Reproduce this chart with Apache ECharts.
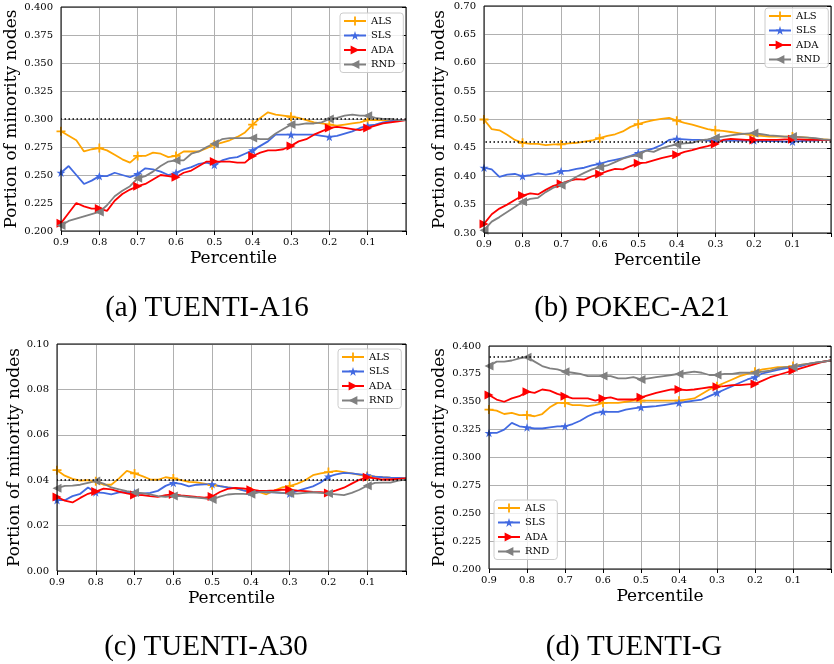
<!DOCTYPE html>
<html>
<head>
<meta charset="utf-8">
<script src="https://cdn.jsdelivr.net/npm/echarts@6/dist/echarts.min.js"></script>
<style>
html,body{margin:0;padding:0;background:#fff;}
#chart{width:834px;height:664px;}
</style>
</head>
<body>
<div id="chart"></div>
<script>
// ---- data ----
const percentiles = [0.9,0.88,0.86,0.84,0.82,0.8,0.78,0.76,0.74,0.72,
  0.7,0.68,0.66,0.64,0.62,0.6,0.58,0.56,0.54,0.52,
  0.5,0.48,0.46,0.44,0.42,0.4,0.38,0.36,0.34,0.32,
  0.3,0.28,0.26,0.24,0.22,0.2,0.18,0.16,0.14,0.12,
  0.1,0.08,0.06,0.04,0.02,0];
const markerPercentiles = [0.9,0.8,0.7,0.6,0.5,0.4,0.3,0.2,0.1];
const methods = ['ALS','SLS','ADA','RND'];
const panelTitles = ['(a) TUENTI-A16','(b) POKEC-A21','(c) TUENTI-A30','(d) TUENTI-G'];
const baselines = [0.299, 0.464, 0.041, 0.387];
const yMins = [0.2, 0.3, 0, 0.2];
const yMaxs = [0.4, 0.7, 0.1, 0.4];
const yIntervals = [0.025, 0.05, 0.02, 0.025];
const yDecimals = [3, 2, 2, 3];
const xTickLabels = ['0.9','0.8','0.7','0.6','0.5','0.4','0.3','0.2','0.1'];

const a16ALS = [0.289,0.285,0.281,0.271,0.273, 0.274,0.272,0.268,0.264,0.261,
  0.267,0.267,0.270,0.269,0.266, 0.267,0.271,0.271,0.271,0.274,
  0.277,0.279,0.281,0.284,0.288, 0.295,0.301,0.306,0.304,0.303,
  0.302,0.301,0.299,0.297,0.296, 0.295,0.294,0.295,0.296,0.297,
  0.299,0.299,0.299,0.299,0.299, 0.299];
const a16SLS = [0.252,0.258,0.250,0.242,0.245, 0.249,0.249,0.252,0.250,0.248,
  0.251,0.256,0.255,0.253,0.250, 0.252,0.255,0.257,0.260,0.261,
  0.259,0.263,0.265,0.266,0.269, 0.272,0.276,0.280,0.286,0.286,
  0.286,0.286,0.286,0.286,0.285, 0.284,0.285,0.287,0.289,0.292,
  0.294,0.295,0.297,0.298,0.299, 0.299];
const a16ADA = [0.207,0.216,0.225,0.222,0.220, 0.220,0.218,0.227,0.233,0.237,
  0.240,0.242,0.246,0.250,0.249, 0.248,0.252,0.254,0.258,0.262,
  0.262,0.262,0.262,0.261,0.261, 0.267,0.270,0.272,0.272,0.273,
  0.276,0.280,0.282,0.286,0.289, 0.292,0.293,0.292,0.291,0.290,
  0.292,0.294,0.296,0.297,0.298, 0.299];
const a16RND = [0.205,0.209,0.211,0.213,0.215, 0.217,0.223,0.231,0.236,0.240,
  0.247,0.249,0.253,0.258,0.262, 0.263,0.263,0.269,0.271,0.275,
  0.278,0.282,0.283,0.283,0.283, 0.283,0.282,0.282,0.287,0.291,
  0.295,0.295,0.296,0.296,0.297, 0.300,0.301,0.303,0.304,0.303,
  0.303,0.301,0.300,0.300,0.299, 0.299];

const a21ALS = [0.500,0.483,0.481,0.473,0.464, 0.459,0.457,0.457,0.455,0.456,
  0.456,0.458,0.459,0.461,0.463, 0.467,0.471,0.474,0.479,0.487,
  0.492,0.496,0.499,0.501,0.503, 0.498,0.494,0.491,0.487,0.483,
  0.481,0.480,0.478,0.476,0.474, 0.472,0.471,0.470,0.470,0.470,
  0.470,0.469,0.468,0.466,0.465, 0.464];
const a21SLS = [0.415,0.412,0.399,0.403,0.404, 0.400,0.402,0.405,0.403,0.405,
  0.409,0.410,0.413,0.415,0.419, 0.422,0.426,0.429,0.432,0.436,
  0.441,0.445,0.449,0.455,0.464, 0.466,0.465,0.464,0.464,0.463,
  0.463,0.463,0.463,0.463,0.463, 0.463,0.462,0.462,0.462,0.461,
  0.461,0.462,0.463,0.463,0.464, 0.464];
const a21ADA = [0.316,0.333,0.343,0.350,0.358, 0.366,0.370,0.368,0.376,0.383,
  0.387,0.392,0.395,0.394,0.400, 0.404,0.409,0.413,0.412,0.418,
  0.423,0.424,0.428,0.432,0.435, 0.438,0.443,0.446,0.450,0.453,
  0.457,0.464,0.466,0.465,0.464, 0.464,0.464,0.464,0.464,0.465,
  0.465,0.465,0.464,0.464,0.464, 0.464];
const a21RND = [0.305,0.320,0.328,0.337,0.346, 0.355,0.360,0.362,0.372,0.380,
  0.384,0.391,0.399,0.406,0.412, 0.416,0.419,0.425,0.431,0.435,
  0.437,0.445,0.443,0.449,0.453, 0.456,0.458,0.459,0.463,0.465,
  0.468,0.470,0.472,0.474,0.475, 0.476,0.474,0.472,0.471,0.470,
  0.470,0.469,0.468,0.467,0.465, 0.464];

const a30ALS = [0.0444,0.0420,0.0406,0.0398,0.0400, 0.0395,0.0380,0.0380,0.0408,0.0441,
  0.0430,0.0418,0.0404,0.0402,0.0413, 0.0408,0.0400,0.0393,0.0390,0.0385,
  0.0378,0.0374,0.0368,0.0363,0.0356, 0.0350,0.0348,0.0338,0.0354,0.0368,
  0.0374,0.0385,0.0400,0.0422,0.0430, 0.0436,0.0441,0.0436,0.0430,0.0424,
  0.0418,0.0416,0.0413,0.0411,0.0410, 0.0408];
const a30SLS = [0.0312,0.0312,0.0330,0.0340,0.0368, 0.0346,0.0344,0.0338,0.0346,0.0348,
  0.0345,0.0341,0.0344,0.0353,0.0375, 0.0388,0.0384,0.0373,0.0380,0.0382,
  0.0382,0.0374,0.0368,0.0365,0.0355, 0.0348,0.0350,0.0347,0.0347,0.0344,
  0.0341,0.0353,0.0363,0.0373,0.0390, 0.0416,0.0426,0.0432,0.0430,0.0426,
  0.0422,0.0416,0.0413,0.0411,0.0410, 0.0408];
const a30ADA = [0.0326,0.0310,0.0302,0.0322,0.0340, 0.0350,0.0363,0.0360,0.0350,0.0342,
  0.0335,0.0334,0.0330,0.0327,0.0334, 0.0337,0.0333,0.0330,0.0326,0.0323,
  0.0328,0.0348,0.0362,0.0366,0.0364, 0.0358,0.0354,0.0353,0.0355,0.0358,
  0.0358,0.0354,0.0352,0.0348,0.0347, 0.0344,0.0355,0.0367,0.0385,0.0402,
  0.0413,0.0408,0.0403,0.0403,0.0406, 0.0408];
const a30RND = [0.0365,0.0375,0.0376,0.0380,0.0388, 0.0396,0.0385,0.0368,0.0360,0.0352,
  0.0346,0.0343,0.0338,0.0330,0.0327, 0.0330,0.0330,0.0326,0.0323,0.0320,
  0.0315,0.0328,0.0337,0.0340,0.0340, 0.0338,0.0346,0.0350,0.0347,0.0344,
  0.0341,0.0341,0.0344,0.0347,0.0344, 0.0341,0.0338,0.0334,0.0344,0.0358,
  0.0376,0.0388,0.0389,0.0389,0.0398, 0.0403];

const gALS = [0.343,0.342,0.339,0.340,0.338, 0.338,0.337,0.339,0.345,0.349,
  0.349,0.347,0.347,0.346,0.347, 0.349,0.349,0.349,0.350,0.351,
  0.351,0.351,0.351,0.351,0.351, 0.351,0.352,0.353,0.357,0.361,
  0.364,0.367,0.370,0.373,0.375, 0.377,0.379,0.380,0.381,0.381,
  0.382,0.383,0.384,0.385,0.386, 0.387];
const gSLS = [0.322,0.322,0.325,0.331,0.328, 0.327,0.326,0.326,0.327,0.328,
  0.328,0.330,0.333,0.337,0.340, 0.341,0.341,0.341,0.343,0.344,
  0.345,0.3455,0.346,0.347,0.348, 0.349,0.350,0.351,0.352,0.355,
  0.358,0.361,0.364,0.367,0.370, 0.372,0.3755,0.377,0.3785,0.380,
  0.381,0.382,0.384,0.385,0.386, 0.387];
const gADA = [0.356,0.352,0.350,0.353,0.355, 0.359,0.358,0.361,0.360,0.357,
  0.355,0.353,0.353,0.353,0.351, 0.353,0.354,0.352,0.352,0.352,
  0.354,0.356,0.358,0.3595,0.361, 0.361,0.3605,0.361,0.362,0.363,
  0.3635,0.364,0.365,0.365,0.3655, 0.366,0.369,0.372,0.374,0.376,
  0.378,0.380,0.382,0.384,0.386, 0.387];
const gRND = [0.382,0.386,0.386,0.387,0.389, 0.390,0.386,0.382,0.380,0.379,
  0.377,0.376,0.375,0.373,0.373, 0.373,0.373,0.371,0.371,0.372,
  0.370,0.371,0.372,0.373,0.374, 0.375,0.376,0.377,0.376,0.374,
  0.374,0.375,0.375,0.376,0.376, 0.376,0.377,0.378,0.380,0.381,
  0.381,0.383,0.384,0.385,0.386, 0.387];

const panelSeries = [
  [a16ALS, a16SLS, a16ADA, a16RND],
  [a21ALS, a21SLS, a21ADA, a21RND],
  [a30ALS, a30SLS, a30ADA, a30RND],
  [gALS, gSLS, gADA, gRND]
];

// ---- styling / layout ----
const colors = ['#FFA500', '#4169E1', '#FF0000', '#808080'];
const symbols = [
  'path://M4,0H6V4H10V6H6V10H4V6H0V4H4Z',
  'path://M50,0L61.8,35.3L98.1,35.3L68.8,57.1L79.4,91.9L50,70.7L20.6,91.9L31.2,57.1L1.9,35.3L38.2,35.3Z',
  'path://M0,0L10,5L0,10Z',
  'path://M10,0L0,5L10,10Z'
];
const symbolSizes = [9, 9, 9, 9];
const grids = [
  {left: 61, top: 7, width: 345, height: 224},
  {left: 484, top: 6, width: 349, height: 227},
  {left: 57, top: 344, width: 349, height: 227},
  {left: 489, top: 346, width: 344, height: 223}
];
const yNameGaps = [38, 36, 32, 36];
const legendPos = [
  {left: 340, top: 13},
  {left: 765, top: 8},
  {left: 338, top: 349},
  {left: 494, top: 500}
];
const captionPos = [[207, 308], [632, 308], [206, 647], [634, 647]];

const serif = 'DejaVu Serif';

function isMarker(x) {
  return markerPercentiles.some(m => Math.abs(m - x) < 1e-9);
}

const option = {
  animation: false,
  grid: grids.map(g => Object.assign({show: true, borderColor: '#000', borderWidth: 1, z: 10, backgroundColor: 'transparent'}, g)),
  xAxis: grids.map((g, i) => ({
    type: 'value', gridIndex: i, inverse: true, min: 0, max: 0.9, interval: 0.1,
    name: 'Percentile', nameLocation: 'middle', nameGap: 19,
    nameTextStyle: {fontFamily: serif, fontSize: 17, color: '#000'},
    axisLine: {show: false},
    axisTick: {show: true, inside: false, length: 4, lineStyle: {color: '#000', width: 1}},
    axisLabel: {fontFamily: serif, fontSize: 10, color: '#000', margin: 6,
      formatter: v => { const k = Math.round(v * 10); return k >= 1 && k <= 9 ? xTickLabels[9 - k] : ''; }},
    splitLine: {show: true, lineStyle: {color: '#b0b0b0', width: 1}}
  })),
  yAxis: grids.map((g, i) => ({
    type: 'value', gridIndex: i, min: yMins[i], max: yMaxs[i], interval: yIntervals[i],
    name: 'Portion of minority nodes', nameLocation: 'middle', nameGap: yNameGaps[i],
    nameTextStyle: {fontFamily: serif, fontSize: 17, color: '#000'},
    axisLine: {show: false},
    axisTick: {show: true, inside: false, length: 4, lineStyle: {color: '#000', width: 1}},
    axisLabel: {fontFamily: serif, fontSize: 10, color: '#000', margin: 8,
      formatter: v => v.toFixed(yDecimals[i])},
    splitLine: {show: true, lineStyle: {color: '#b0b0b0', width: 1}}
  })),
  legend: legendPos.map(p => ({
    left: p.left, top: p.top, orient: 'vertical', data: methods,
    itemWidth: 22, itemHeight: 11, itemGap: 4.5, padding: [3, 8, 3, 3],
    backgroundColor: 'rgba(255,255,255,0.8)', borderColor: '#cccccc', borderWidth: 1, borderRadius: 3,
    textStyle: {fontFamily: serif, fontSize: 10, color: '#000'},
    selectedMode: false
  })),
  series: [],
  graphic: panelTitles.map((t, i) => ({
    type: 'text', x: captionPos[i][0], y: captionPos[i][1],
    style: {text: t, fontFamily: 'Liberation Serif', fontSize: 29, fill: '#000',
      textAlign: 'center', textVerticalAlign: 'middle'}
  }))
};

panelSeries.forEach((ps, p) => {
  ps.forEach((vals, m) => {
    const s = {
      type: 'line', name: methods[m], xAxisIndex: p, yAxisIndex: p,
      symbol: symbols[m], symbolSize: symbolSizes[m], symbolKeepAspect: true,
      showSymbol: true,
      lineStyle: {color: colors[m], width: 1.8},
      itemStyle: {color: colors[m], borderWidth: 0},
      emphasis: {disabled: true},
      silent: true,
      data: percentiles.map((x, k) => isMarker(x) ? {value: [x, vals[k]]} : {value: [x, vals[k]], symbol: 'none'})
    };
    if (m === 0) {
      s.markLine = {
        silent: true, symbol: ['none', 'none'], label: {show: false},
        lineStyle: {color: '#000', type: [1.5, 2.5], width: 1.5},
        emphasis: {disabled: true},
        data: [{yAxis: baselines[p]}]
      };
    }
    option.series.push(s);
  });
});

const chart = echarts.init(document.getElementById('chart'), null, {renderer: 'canvas'});
chart.setOption(option);
</script>
</body>
</html>
